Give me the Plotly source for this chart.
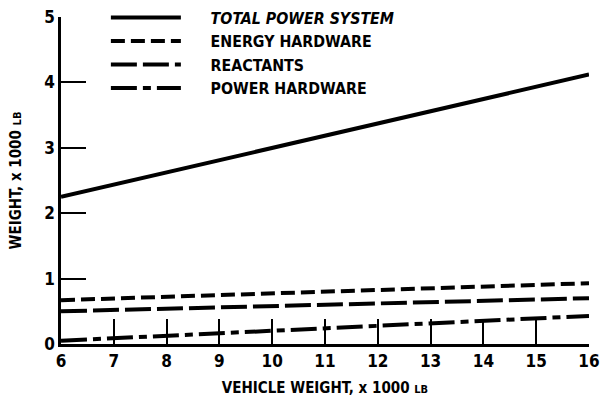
import plotly.graph_objects as go

vehicle_weight = [6, 16]
total_power_system = [2.25, 4.12]
energy_hardware = [0.67, 0.93]
reactants = [0.50, 0.70]
power_hardware = [0.05, 0.43]

x_ticks = [6, 7, 8, 9, 10, 11, 12, 13, 14, 15, 16]
y_ticks = [0, 1, 2, 3, 4, 5]

FONT = "DejaVu Sans Condensed, Liberation Sans Narrow, Arial Narrow, sans-serif"
PAD = "&nbsp;&nbsp;&nbsp;&nbsp;&nbsp;"

series = [
    (PAD + "<i>TOTAL POWER SYSTEM</i>", total_power_system, "solid", 4),
    (PAD + "ENERGY HARDWARE", energy_hardware, "14px,6px", 4),
    (PAD + "REACTANTS", reactants, "26px,6px", 4),
    (PAD + "POWER HARDWARE", power_hardware, "26px,6px,8px,6px", 4),
]

fig = go.Figure()
for name, vals, dash, w in series:
    fig.add_trace(go.Scatter(
        x=vehicle_weight, y=vals, mode="lines", name=name,
        line=dict(color="black", width=w, dash=dash),
    ))

fig.update_layout(
    width=601, height=401,
    margin=dict(l=61, r=12, t=17, b=57, autoexpand=False),
    paper_bgcolor="white", plot_bgcolor="white",
    font=dict(family=FONT, color="black", size=15, weight="bold"),
    legend=dict(
        x=0.085, y=1.05, xanchor="left", yanchor="top",
        itemwidth=70, font=dict(size=15.8, family=FONT, weight="bold"),
        bgcolor="rgba(0,0,0,0)", tracegroupgap=0,
    ),
    showlegend=True,
)
fig.update_xaxes(
    range=[6, 16], tickvals=x_ticks, ticktext=[str(t) for t in x_ticks],
    ticks="inside", ticklen=25, tickwidth=2, tickcolor="black",
    showline=True, linecolor="black", linewidth=2.5, mirror=False,
    showgrid=False, zeroline=False, automargin=False,
    title=dict(text="VEHICLE WEIGHT, x 1000 <span style='font-size:11px'>LB</span>",
               font=dict(size=15, family=FONT, weight="bold"), standoff=13),
    tickfont=dict(size=17, family=FONT, weight="bold"),
)
fig.update_yaxes(
    range=[0, 5], tickvals=y_ticks, ticktext=[str(t) for t in y_ticks],
    ticks="inside", ticklen=25, tickwidth=2, tickcolor="black",
    showline=True, linecolor="black", linewidth=2.5, mirror=False,
    showgrid=False, zeroline=False, automargin=False,
    title=dict(text="WEIGHT, x 1000 <span style='font-size:11px'>LB</span>",
               font=dict(size=15, family=FONT, weight="bold"), standoff=19),
    tickfont=dict(size=17, family=FONT, weight="bold"),
)

fig.write_html("out.html", config={"displayModeBar": False},
               post_script="document.body.style.margin='0';")
